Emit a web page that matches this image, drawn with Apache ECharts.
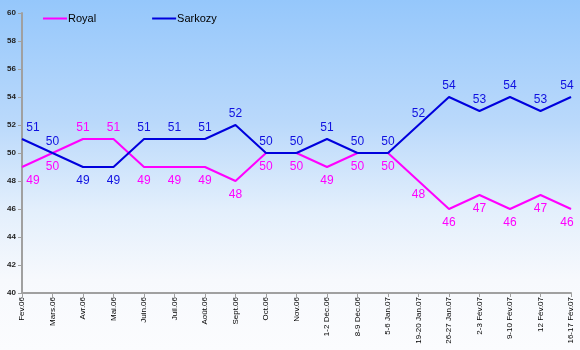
<!DOCTYPE html>
<html>
<head>
<meta charset="utf-8">
<script src="https://cdn.jsdelivr.net/npm/echarts@6/dist/echarts.min.js"></script>
<style>html,body{margin:0;padding:0;}#c{width:580px;height:350px;}</style>
</head>
<body>
<div id="c"></div>
<script>
const categories = ['Fev.06','Mars.06','Avr.06','Mai.06','Juin.06','Juil.06','Août.06','Sept.06','Oct.06','Nov.06','1-2 Déc.06','8-9 Déc.06','5-6 Jan.07','19-20 Jan.07','26-27 Jan.07','2-3 Fév.07','9-10 Fév.07','12 Fév.07','16-17 Fév.07'];
const royal = [49,50,51,51,49,49,49,48,50,50,49,50,50,48,46,47,46,47,46];
const sarkozy = [51,50,49,49,51,51,51,52,50,50,51,50,50,52,54,53,54,53,54];

const chart = echarts.init(document.getElementById('c'));
function pts(arr, other, isRoyal) {
  return arr.map((v, i) => {
    const above = isRoyal ? v > other[i] : v >= other[i];
    return { value: v, label: { show: true, position: above ? 'top' : 'bottom' } };
  });
}
function layout(isRoyal) {
  const n = categories.length;
  return function (p) {
    const i = p.dataIndex;
    const v = isRoyal ? royal[i] : sarkozy[i];
    const o = isRoyal ? sarkozy[i] : royal[i];
    const above = isRoyal ? v > o : v >= o;
    const dx = i === 0 ? 11 : (i === n - 1 ? -4 : 0);
    return { dx: dx, dy: above ? 0 : 2, hideOverlap: false };
  };
}
chart.setOption({
  backgroundColor: {
    type: 'linear', x: 0, y: 0, x2: 0, y2: 1,
    colorStops: [
      { offset: 0, color: '#95c7fb' },
      { offset: 0.35, color: '#bad9fb' },
      { offset: 0.6, color: '#e3effc' },
      { offset: 0.8, color: '#f7f9fd' },
      { offset: 1, color: '#fbfcfe' }
    ]
  },
  animation: false,
  textStyle: { fontFamily: 'Liberation Sans, Arial, sans-serif' },
  legend: {
    left: 43, top: 13, padding: 0,
    itemWidth: 24, itemHeight: 2, itemGap: 56,
    icon: 'rect',
    textStyle: { fontSize: 11, color: '#000', padding: [0, 0, 0, -4] },
    data: [
      { name: 'Royal', itemStyle: { color: '#ff00ff', opacity: 1 } },
      { name: 'Sarkozy', itemStyle: { color: '#0000dd', opacity: 1 } }
    ]
  },
  grid: { left: 22, right: 9, top: 13, bottom: 57 },
  xAxis: {
    type: 'category', data: categories, boundaryGap: false,
    axisLine: { lineStyle: { color: '#a0a0a0', width: 2 } },
    axisTick: { alignWithLabel: true, length: 4, lineStyle: { color: '#a0a0a0' } },
    axisLabel: { rotate: 90, fontSize: 8, color: '#000', margin: 4, interval: 0 }
  },
  yAxis: {
    type: 'value', min: 40, max: 60, interval: 2,
    splitLine: { show: false },
    axisLine: { show: true, lineStyle: { color: '#a0a0a0', width: 2 } },
    axisTick: { show: true, length: 4, lineStyle: { color: '#a0a0a0' } },
    axisLabel: { fontSize: 8, fontWeight: 'bold', color: '#222', margin: 6 }
  },
  series: [
    {
      name: 'Royal', type: 'line', data: pts(royal, sarkozy, true),
      symbol: 'circle', symbolSize: 0.5, showSymbol: true,
      itemStyle: { color: '#ff00ff' },
      lineStyle: { width: 2, color: '#ff00ff' },
      label: { show: true, color: '#ff00ff', fontSize: 12, distance: 5 },
      labelLayout: layout(true)
    },
    {
      name: 'Sarkozy', type: 'line', data: pts(sarkozy, royal, false),
      symbol: 'circle', symbolSize: 0.5, showSymbol: true,
      itemStyle: { color: '#0000dd' },
      lineStyle: { width: 2, color: '#0000dd' },
      label: { show: true, color: '#1010e0', fontSize: 12, distance: 5 },
      labelLayout: layout(false)
    }
  ]
});
</script>
</body>
</html>
